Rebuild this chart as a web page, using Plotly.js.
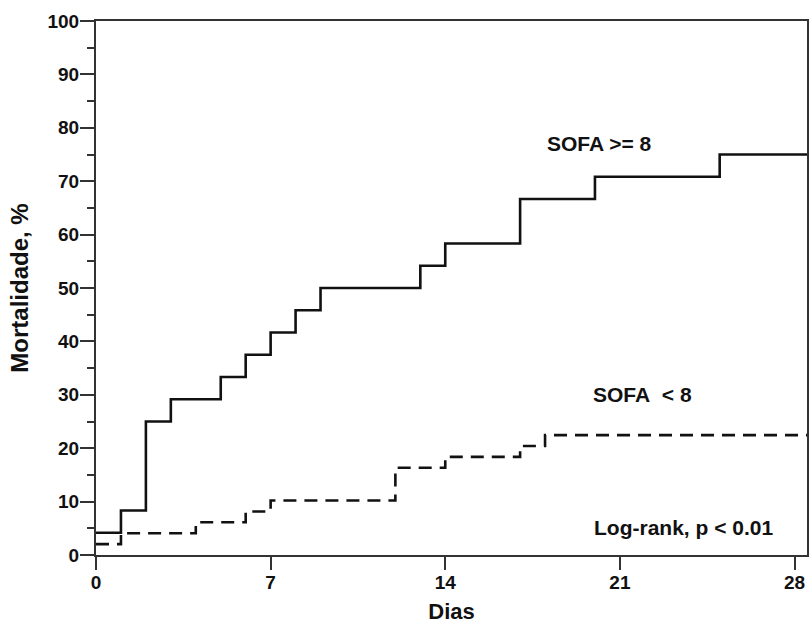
<!DOCTYPE html>
<html>
<head>
<meta charset="utf-8">
<script src="https://cdn.plot.ly/plotly-3.0.1.min.js"></script>
<style>html,body{margin:0;padding:0;background:#fff;}#chart{width:811px;height:625px;}</style>
</head>
<body>
<div id="chart"></div>
<script>
// SOFA >= 8 (solid)
const highDays = [0, 1, 2, 3, 5, 6, 7, 8, 9, 13, 14, 17, 20, 25, 28.5];
const highMort = [4.17, 8.33, 25, 29.17, 33.33, 37.5, 41.67, 45.83, 50, 54.17, 58.33, 66.67, 70.83, 75, 75];
// SOFA < 8 (dashed)
const lowDays = [0, 1, 4, 6, 7, 12, 14, 17, 18, 28.5];
const lowMort = [2.04, 4.08, 6.12, 8.16, 10.2, 16.33, 18.37, 20.41, 22.45, 22.45];
const xTicks = [0, 7, 14, 21, 28];
const yTicks = [0, 10, 20, 30, 40, 50, 60, 70, 80, 90, 100];
const labels = ["SOFA >= 8", "SOFA  < 8", "Log-rank, p < 0.01"];

const font = {family: "Liberation Sans, Arial, sans-serif", color: "#111"};

const traces = [
  {x: highDays, y: highMort, mode: "lines", line: {shape: "hv", color: "#111", width: 2.6}, hoverinfo: "skip"},
  {x: lowDays, y: lowMort, mode: "lines", line: {shape: "hv", color: "#111", width: 2.6, dash: "13px,8px"}, hoverinfo: "skip"}
];

const layout = {
  width: 811, height: 625,
  margin: {l: 96, r: 4, t: 21, b: 70},
  paper_bgcolor: "#fff", plot_bgcolor: "#fff",
  showlegend: false,
  font: font,
  xaxis: {
    range: [0, 28.5], tickvals: xTicks, ticktext: xTicks.map(String),
    ticks: "outside", ticklen: 13, tickwidth: 2, tickcolor: "#333",
    ticklabelstandoff: -4,
    showline: true, linecolor: "#333", linewidth: 2, mirror: true,
    showgrid: false, zeroline: false,
    tickfont: {family: font.family, size: 19, color: "#111", weight: "bold"},
    title: {text: "<b>Dias</b>", font: {family: font.family, size: 22, color: "#111"}, standoff: 12}
  },
  yaxis: {
    range: [0, 100], tickvals: yTicks, ticktext: yTicks.map(String),
    ticks: "outside", ticklen: 14, tickwidth: 2, tickcolor: "#333",
    ticklabelstandoff: -3,
    minor: {tickvals: [5, 15, 25, 35, 45, 55, 65, 75, 85, 95], ticks: "outside", ticklen: 7, tickwidth: 2, tickcolor: "#333"},
    showline: true, linecolor: "#333", linewidth: 2, mirror: true,
    showgrid: false, zeroline: false,
    tickfont: {family: font.family, size: 19, color: "#111", weight: "bold"},
    title: {text: "<b>Mortalidade, %</b>", font: {family: font.family, size: 24, color: "#111"}, standoff: 12}
  },
  annotations: [
    {x: 20.2, y: 77, xref: "x", yref: "y", text: "<b>" + labels[0] + "</b>", showarrow: false, font: {family: font.family, size: 21, color: "#111"}},
    {x: 21.9, y: 30, xref: "x", yref: "y", text: "<b>" + labels[1].replace("  ", "&nbsp; ") + "</b>", showarrow: false, font: {family: font.family, size: 21, color: "#111"}},
    {x: 23.55, y: 5.2, xref: "x", yref: "y", text: "<b>" + labels[2] + "</b>", showarrow: false, font: {family: font.family, size: 21, color: "#111"}}
  ]
};

Plotly.newPlot("chart", traces, layout, {displayModeBar: false, staticPlot: true});
</script>
</body>
</html>
